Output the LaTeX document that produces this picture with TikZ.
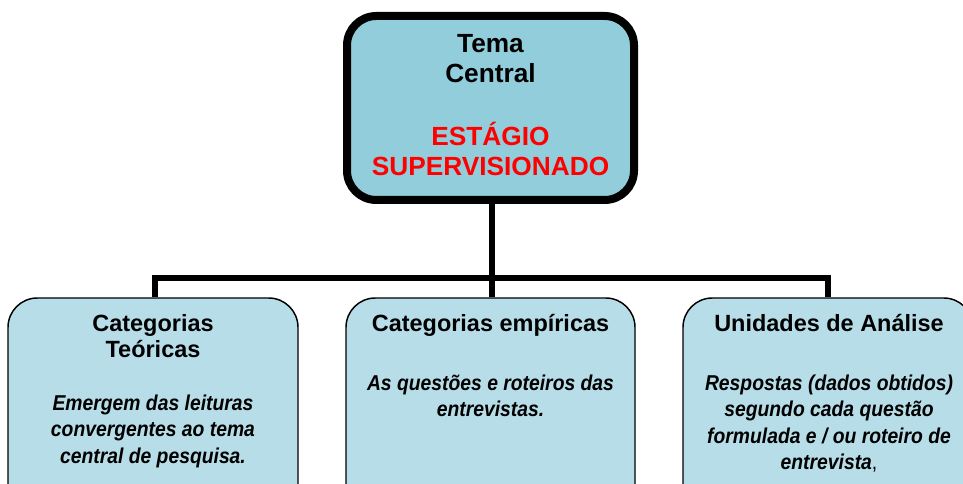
\documentclass[tikz,border=0pt]{standalone}
\usepackage{fontspec}
\setmainfont{Liberation Sans}
\newfontfamily\bodyfont[FakeStretch=0.9]{Liberation Sans}
\definecolor{topfill}{HTML}{92CDDC}
\definecolor{subfill}{HTML}{B7DEE8}
\newcommand\mylines[1]{\begin{tabular}[t]{@{}c@{}}#1\end{tabular}}
\tikzset{
  topbox/.style={draw=black, line width=6pt, fill=topfill, rounded corners=22pt, inner sep=0pt},
  subbox/.style={draw=black, line width=1.1pt, fill=subfill, rounded corners=22pt, inner sep=0pt},
  conn/.style={line width=4pt},
  toptxt/.style={anchor=base, inner sep=0pt, font=\fontsize{19.7}{22.5}\selectfont\bfseries},
  headtxt/.style={anchor=base, inner sep=0pt, font=\fontsize{17.6}{19.5}\selectfont\bfseries},
  bodytxt/.style={anchor=base, inner sep=0pt, font=\bodyfont\fontsize{16.1}{19.9}\selectfont\bfseries\itshape},
}
\begin{document}
\begin{tikzpicture}[x=0.75pt,y=-0.75pt]
\useasboundingbox (0,0) rectangle (963,484);
\clip (0,0) rectangle (963,484);
% top box
\node[topbox, minimum width=287*0.75pt, minimum height=184*0.75pt] (top) at (490.5,108) {};
% bottom boxes
\node[subbox, minimum width=290*0.75pt, minimum height=220*0.75pt] (b1) at (153,408) {};
\node[subbox, minimum width=289*0.75pt, minimum height=220*0.75pt] (b2) at (490.5,408) {};
\node[subbox, minimum width=290*0.75pt, minimum height=220*0.75pt] (b3) at (828,408) {};
% connectors
\coordinate (bar) at (492,278);
\draw[conn] (top.south -| bar) -- (bar);
\draw[conn] (b1.north -| 155,0) |- (bar) -| (b3.north -| 828,0);
\draw[conn] (bar) -- (b2.north -| bar);
% texts
\node[toptxt] (t0) at (490.5,53) {\mylines{Tema\\Central\\[22.5pt]\textcolor{red}{ESTÁGIO}\\\textcolor{red}{SUPERVISIONADO}}};
\node[headtxt] (h1) at (153,332) {\mylines{Categorias\\Teóricas}};
\node[bodytxt] (p1) at (153,410) {\mylines{Emergem das leituras\\convergentes ao tema\\central de pesquisa.}};
\node[headtxt] (h2) at (490.5,331) {Categorias empíricas};
\node[bodytxt] (p2) at (490.5,390) {\mylines{As questões e roteiros das\\entrevistas.}};
\node[headtxt] (h3) at (829,332) {Unidades de Análise};
\node[bodytxt] (p3) at (829,390) {\mylines{Respostas (dados obtidos)\\segundo cada questão\\formulada e / ou roteiro de\\entrevista{\upshape\mdseries,}}};
\end{tikzpicture}
\end{document}
